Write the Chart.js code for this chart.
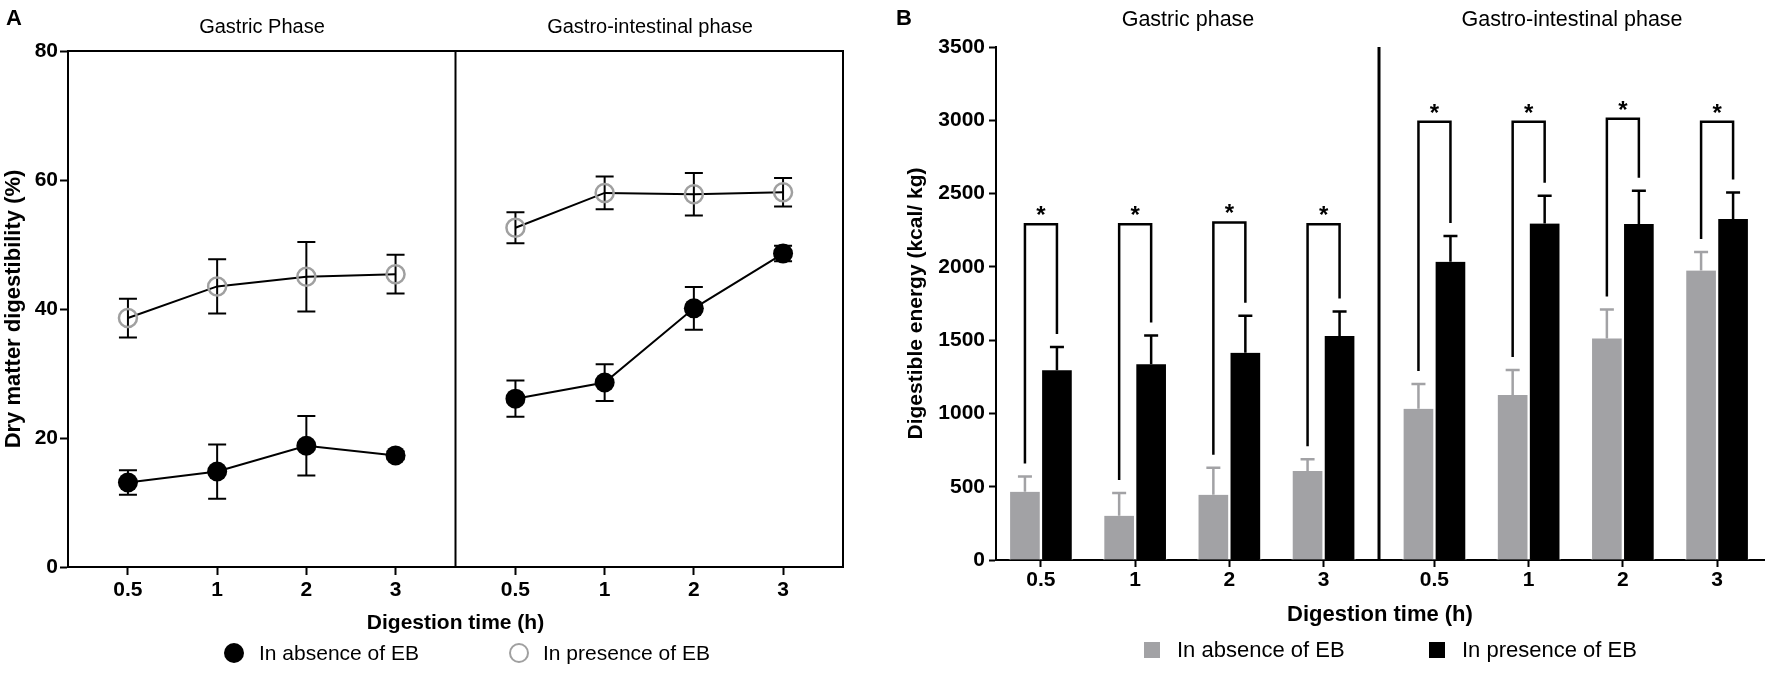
<!DOCTYPE html>
<html>
<head>
<meta charset="utf-8">
<script src="https://cdn.jsdelivr.net/npm/chart.js@4.4.1/dist/chart.umd.min.js"></script>
<style>
  html, body { margin: 0; padding: 0; background: #fff; }
  body { width: 1772px; height: 673px; position: relative; overflow: hidden;
         font-family: 'Liberation Sans', Arial, sans-serif; color: #000; }
  .panel { position: absolute; top: 0; height: 673px; }
  #panelA { left: 0; width: 880px; }
  #panelB { left: 880px; width: 892px; }
  .letter { position: absolute; top: 7px; font-weight: bold; font-size: 22px; line-height: 1; }
  .phase { position: absolute; width: 400px; text-align: center; line-height: 1; white-space: nowrap; }
  .legend-item { position: absolute; height: 24px; display: flex; align-items: center;
                 line-height: 24px; white-space: nowrap; }
  .dot { width: 20px; height: 20px; border-radius: 50%; box-sizing: border-box; }
  .square { width: 16px; height: 16px; }
</style>
</head>
<body>
<div class="panel" id="panelA"><canvas id="chartA"></canvas></div>
<div class="panel" id="panelB"><canvas id="chartB"></canvas></div>

<div class="letter" style="left:6px">A</div>
<div class="letter" style="left:896px">B</div>

<div class="phase" id="phaseA0" style="left:62px; top:16px; font-size:20px"></div>
<div class="phase" id="phaseA1" style="left:450px; top:16px; font-size:20px"></div>
<div class="phase" id="phaseB0" style="left:988px; top:9px; font-size:21.5px"></div>
<div class="phase" id="phaseB1" style="left:1372px; top:9px; font-size:21.5px"></div>

<div class="legend-item" style="left:224px; top:641px; font-size:21px">
  <span class="dot" style="background:#000; margin-right:15px"></span><span class="lgA0"></span>
</div>
<div class="legend-item" style="left:509px; top:641px; font-size:21px">
  <span class="dot" style="border:2.5px solid #a0a0a0; margin-right:14px"></span><span class="lgA1"></span>
</div>
<div class="legend-item" style="left:1144px; top:638px; font-size:22px">
  <span class="square" style="background:#a2a2a5; margin-right:17px"></span><span class="lgB0"></span>
</div>
<div class="legend-item" style="left:1429px; top:638px; font-size:22px">
  <span class="square" style="background:#000; margin-right:17px"></span><span class="lgB1"></span>
</div>

<script>
// categories
const times = ['0.5', '1', '2', '3'];
const phasesA = ['Gastric Phase', 'Gastro-intestinal phase'];
const phasesB = ['Gastric phase', 'Gastro-intestinal phase'];
const seriesNames = ['In absence of EB', 'In presence of EB'];

// panel A: dry matter digestibility (%), 4 gastric then 4 gastro-intestinal time points
const dmAbsence = [13.1, 14.8, 18.8, 17.3, 26.1, 28.6, 40.1, 48.6];
const dmAbsenceErr = [1.9, 4.2, 4.6, 0.6, 2.8, 2.85, 3.3, 1.2];
const dmPresence = [38.6, 43.5, 45.0, 45.4, 52.6, 58.0, 57.8, 58.1];
const dmPresenceErr = [3.0, 4.2, 5.4, 3.0, 2.4, 2.55, 3.3, 2.2];
const dmTicks = [0, 20, 40, 60, 80];

// panel B: digestible energy (kcal/kg)
const deAbsence = [465, 302, 445, 607, 1032, 1125, 1512, 1975];
const deAbsenceErr = [105, 155, 184, 80, 168, 171, 197, 126];
const dePresence = [1294, 1335, 1414, 1528, 2034, 2296, 2292, 2326];
const dePresenceErr = [160, 197, 252, 168, 176, 189, 227, 182];
const deTicks = [0, 500, 1000, 1500, 2000, 2500, 3000, 3500];
const sigBracket = [2290, 2290, 2303, 2291, 2990, 2990, 3010, 2990];
const sigMark = ['*', '*', '*', '*', '*', '*', '*', '*'];

document.getElementById('phaseA0').textContent = phasesA[0];
document.getElementById('phaseA1').textContent = phasesA[1];
document.getElementById('phaseB0').textContent = phasesB[0];
document.getElementById('phaseB1').textContent = phasesB[1];
document.querySelector('.lgA0').textContent = seriesNames[0];
document.querySelector('.lgA1').textContent = seriesNames[1];
document.querySelector('.lgB0').textContent = seriesNames[0];
document.querySelector('.lgB1').textContent = seriesNames[1];

Chart.defaults.font.family = "'Liberation Sans', Arial, sans-serif";
Chart.defaults.color = '#000';
Chart.defaults.animation = false;

const grayFill = '#a2a2a5';
const boldTick = { size: 21, weight: 'bold' };

// x layout of panel A: the two phases are separated by a wider gap
const aGap = 0.344, aMin = -0.672, aMax = 8.016, aDivider = 3.672;
const posA = k => (k < 4 ? k : k + aGap);
const lineData = vals => {
  const pts = vals.map((v, k) => ({ x: posA(k), y: v }));
  pts.splice(4, 0, { x: aDivider, y: null });
  return pts;
};

const frameA = {
  id: 'frameA',
  beforeDatasetsDraw(chart) {
    const { ctx, chartArea: a, scales: { x } } = chart;
    const dx = x.getPixelForValue(aDivider);
    ctx.save();
    ctx.strokeStyle = '#000';
    ctx.lineWidth = 2;
    ctx.beginPath();
    ctx.moveTo(a.left, a.top); ctx.lineTo(a.right, a.top); ctx.lineTo(a.right, a.bottom);
    ctx.moveTo(dx, a.top); ctx.lineTo(dx, a.bottom);
    ctx.stroke();
    ctx.restore();
  }
};

const errorBarsA = {
  id: 'errorBarsA',
  beforeDatasetsDraw(chart) {
    const { ctx, scales: { x, y } } = chart;
    ctx.save();
    ctx.strokeStyle = '#000';
    ctx.lineWidth = 2;
    [[dmAbsence, dmAbsenceErr], [dmPresence, dmPresenceErr]].forEach(([vals, errs]) => {
      vals.forEach((v, k) => {
        const px = x.getPixelForValue(posA(k));
        const top = y.getPixelForValue(v + errs[k]);
        const bot = y.getPixelForValue(v - errs[k]);
        ctx.beginPath();
        ctx.moveTo(px, top); ctx.lineTo(px, bot);
        ctx.moveTo(px - 9, top); ctx.lineTo(px + 9, top);
        ctx.moveTo(px - 9, bot); ctx.lineTo(px + 9, bot);
        ctx.stroke();
      });
    });
    ctx.restore();
  }
};

new Chart(document.getElementById('chartA'), {
  type: 'line',
  data: {
    datasets: [
      { label: seriesNames[0], data: lineData(dmAbsence), borderColor: '#000', borderWidth: 2,
        pointRadius: 10, pointBackgroundColor: '#000', pointBorderColor: '#000', pointBorderWidth: 0 },
      { label: seriesNames[1], data: lineData(dmPresence), borderColor: '#000', borderWidth: 2,
        pointRadius: 9, pointBackgroundColor: 'rgba(0,0,0,0)', pointBorderColor: '#a0a0a0', pointBorderWidth: 2.5 }
    ]
  },
  options: {
    responsive: true,
    maintainAspectRatio: false,
    layout: { padding: { top: 51, right: 37, left: 0, bottom: 36 } },
    plugins: { legend: { display: false }, tooltip: { enabled: false } },
    scales: {
      x: {
        type: 'linear', min: aMin, max: aMax,
        afterBuildTicks: s => { s.ticks = times.concat(times).map((t, k) => ({ value: posA(k) })); },
        afterFit: s => { s.height = 70; },
        ticks: { callback: (v, i) => times[i % 4], font: boldTick, padding: 3, autoSkip: false, maxRotation: 0 },
        grid: { drawOnChartArea: false, tickLength: 8, tickWidth: 2, tickColor: '#000' },
        border: { color: '#000', width: 2 },
        title: { display: true, text: 'Digestion time (h)', font: boldTick, padding: { top: 0, bottom: 1 } }
      },
      y: {
        min: 0, max: 80,
        afterBuildTicks: s => { s.ticks = dmTicks.map(v => ({ value: v })); },
        afterFit: s => { s.width = 68; },
        ticks: { font: boldTick, padding: 2, callback: v => String(v) },
        grid: { drawOnChartArea: false, tickLength: 8, tickWidth: 2, tickColor: '#000' },
        border: { color: '#000', width: 2 },
        title: { display: true, text: 'Dry matter digestibility (%)', font: { size: 22, weight: 'bold' }, padding: { top: 1, bottom: 0 } }
      }
    }
  },
  plugins: [frameA, errorBarsA]
});

// x layout of panel B
const bGap = 0.177, bMin = -0.477, bMax = 7.675, bDivider = 3.5885;
const posB = k => (k < 4 ? k : k + bGap);

const dividerB = {
  id: 'dividerB',
  afterDatasetsDraw(chart) {
    const { ctx, chartArea: a, scales: { x } } = chart;
    const dx = x.getPixelForValue(bDivider);
    ctx.save();
    ctx.strokeStyle = '#000';
    ctx.lineWidth = 3;
    ctx.beginPath();
    ctx.moveTo(dx, a.top); ctx.lineTo(dx, a.bottom);
    ctx.stroke();
    ctx.restore();
  }
};

const errorBarsB = {
  id: 'errorBarsB',
  afterDatasetsDraw(chart) {
    const { ctx, scales: { y } } = chart;
    ctx.save();
    ctx.lineWidth = 2.5;
    const sets = [[deAbsence, deAbsenceErr, grayFill], [dePresence, dePresenceErr, '#000']];
    sets.forEach(([vals, errs, color], i) => {
      const meta = chart.getDatasetMeta(i);
      ctx.strokeStyle = color;
      vals.forEach((v, k) => {
        const px = meta.data[k].x;
        const top = y.getPixelForValue(v + errs[k]);
        ctx.beginPath();
        ctx.moveTo(px, y.getPixelForValue(v)); ctx.lineTo(px, top);
        ctx.moveTo(px - 7, top); ctx.lineTo(px + 7, top);
        ctx.stroke();
      });
    });

    // significance brackets
    const m0 = chart.getDatasetMeta(0), m1 = chart.getDatasetMeta(1);
    ctx.strokeStyle = '#000';
    ctx.fillStyle = '#000';
    ctx.lineWidth = 2.5;
    ctx.font = "bold 24px 'Liberation Sans', Arial, sans-serif";
    ctx.textAlign = 'center';
    ctx.textBaseline = 'alphabetic';
    sigBracket.forEach((b, k) => {
      const xl = m0.data[k].x, xr = m1.data[k].x;
      const yt = y.getPixelForValue(b);
      const yl = y.getPixelForValue(deAbsence[k] + deAbsenceErr[k]) - 13;
      const yr = y.getPixelForValue(dePresence[k] + dePresenceErr[k]) - 13;
      ctx.beginPath();
      ctx.moveTo(xl, yl); ctx.lineTo(xl, yt); ctx.lineTo(xr, yt); ctx.lineTo(xr, yr);
      ctx.stroke();
      ctx.fillText(sigMark[k], (xl + xr) / 2, yt - 1);
    });
    ctx.restore();
  }
};

const barStyle = { borderColor: '#fff', borderWidth: { left: 1.5, right: 1.5, top: 0, bottom: 0 }, barThickness: 32 };

new Chart(document.getElementById('chartB'), {
  type: 'bar',
  data: {
    datasets: [
      { label: seriesNames[0], data: deAbsence.map((v, k) => ({ x: posB(k), y: v })), backgroundColor: grayFill, ...barStyle },
      { label: seriesNames[1], data: dePresence.map((v, k) => ({ x: posB(k), y: v })), backgroundColor: '#000', ...barStyle }
    ]
  },
  options: {
    responsive: true,
    maintainAspectRatio: false,
    layout: { padding: { top: 47, right: 8, left: 0, bottom: 44 } },
    plugins: { legend: { display: false }, tooltip: { enabled: false } },
    scales: {
      x: {
        type: 'linear', offset: false, min: bMin, max: bMax, z: 1,
        afterBuildTicks: s => { s.ticks = times.concat(times).map((t, k) => ({ value: posB(k) })); },
        afterFit: s => { s.height = 69; },
        ticks: { callback: (v, i) => times[i % 4], font: boldTick, padding: 0.5, autoSkip: false, maxRotation: 0 },
        grid: { offset: false, drawOnChartArea: false, tickLength: 7, tickWidth: 2, tickColor: '#000' },
        border: { color: '#000', width: 2 },
        title: { display: true, text: 'Digestion time (h)', font: { size: 22, weight: 'bold' }, padding: { top: 0, bottom: 1 } }
      },
      y: {
        min: 0, max: 3500, z: 1,
        afterBuildTicks: s => { s.ticks = deTicks.map(v => ({ value: v })); },
        ticks: { font: boldTick, padding: 4, callback: v => String(v) },
        afterFit: s => { s.width = 116; },
        grid: { drawOnChartArea: false, tickLength: 7, tickWidth: 2, tickColor: '#000' },
        border: { color: '#000', width: 2 },
        title: { display: true, text: 'Digestible energy (kcal/ kg)', font: { size: 21, weight: 'bold' }, padding: { top: 24, bottom: 0 } }
      }
    }
  },
  plugins: [errorBarsB, dividerB]
});
</script>
</body>
</html>
